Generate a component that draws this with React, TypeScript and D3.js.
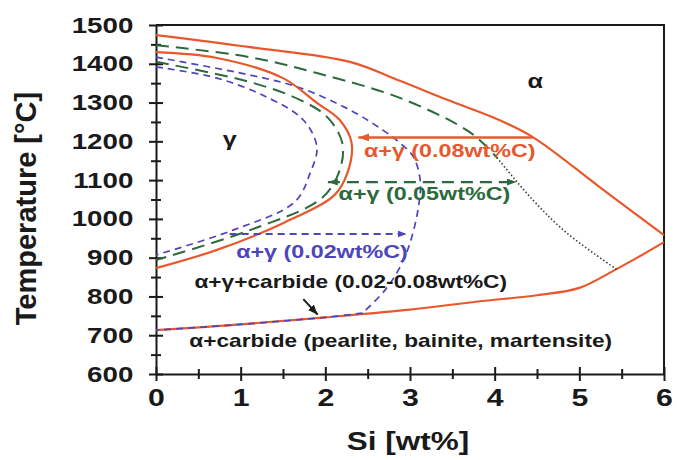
import { useEffect, useRef } from 'react';
import * as d3 from 'd3';

type Pt = [number, number];

const xTicks = [0, 1, 2, 3, 4, 5, 6];
const xMinorTicks = [0.5, 1.5, 2.5, 3.5, 4.5, 5.5];
const yTicks = [600, 700, 800, 900, 1000, 1100, 1200, 1300, 1400, 1500];
const yMinorTicks = [650, 750, 850, 950, 1050, 1150, 1250, 1350, 1450];

// boundaries as [Si wt%, T °C]
const orangeUpper: Pt[] = [[0, 1474], [1.11, 1443], [2.29, 1405], [2.88, 1356], [3.44, 1307], [4.0, 1260], [4.45, 1211], [5.24, 1082], [6, 958]];
const orangeLower: Pt[] = [[0, 713], [1.0, 728], [2.0, 746], [3.0, 766], [3.8, 787], [4.5, 803], [5.0, 822], [5.4, 866], [5.7, 902], [6, 940]];
const orangeLoop: Pt[] = [[0, 1430], [0.72, 1415], [1.5, 1363], [1.9, 1299], [2.17, 1255], [2.31, 1196], [2.26, 1118], [2.11, 1062], [1.5, 989], [0.72, 920], [0, 873]];
const greenUpper: Pt[] = [[0, 1448], [1.11, 1417], [1.9, 1376], [2.88, 1312], [3.67, 1229], [3.91, 1185], [4.03, 1157]];
const greenLoop: Pt[] = [[0, 1405], [1.11, 1353], [1.7, 1307], [2.02, 1263], [2.2, 1196], [2.17, 1126], [1.96, 1054], [1.11, 971], [0, 894]];
const dottedLine: Pt[] = [[4.0, 1165], [4.45, 1049], [4.85, 964], [5.44, 870]];
const blueUpper: Pt[] = [[0, 1417], [1.11, 1371], [1.7, 1338], [2.29, 1281], [2.68, 1229], [2.88, 1196], [3.04, 1160], [3.12, 1100], [3.1, 1031], [3.0, 938], [2.88, 875], [2.7, 815], [2.44, 757]];
const blueLower: Pt[] = [[2.44, 757], [2.0, 746], [1.0, 728], [0, 713]];
const blueLoop: Pt[] = [[0, 1392], [0.72, 1363], [1.31, 1314], [1.74, 1255], [1.9, 1185], [1.82, 1118], [1.64, 1044], [0.91, 971], [0, 907]];

// arrows [from, to]
const orangeArrow: Pt[] = [[4.45, 1210], [2.39, 1210]];
const greenArrow: Pt[] = [[2.03, 1095], [4.26, 1095]];
const blueArrow: Pt[] = [[0.87, 961], [2.96, 961]];
const blackArrow: Pt[] = [[1.74, 793], [1.91, 753]];

const labelTexts = [
  'α',
  'γ',
  'α+γ (0.08wt%C)',
  'α+γ (0.05wt%C)',
  'α+γ (0.02wt%C)',
  'α+γ+carbide (0.02-0.08wt%C)',
  'α+carbide (pearlite, bainite, martensite)',
];
const labelAnchors: Pt[] = [[4.48, 1337], [0.87, 1188], [3.47, 1160], [3.17, 1049], [1.96, 899], [2.3, 822], [2.89, 670]];

const ORANGE = '#e8582c';
const GREEN = '#2c6a3b';
const BLUE = '#4c45bb';
const BLACK = '#1a1a1a';
const FONT = '"Liberation Sans", Arial, Helvetica, sans-serif';
const SX = 1.26;

export default function App() {
  const svgRef = useRef<SVGSVGElement>(null);

  useEffect(() => {
    if (!svgRef.current) return;
    const svg = d3.select(svgRef.current);
    svg.selectAll('*').remove();

    const x = d3.scaleLinear().domain([0, 6]).range([156, 664]);
    const y = d3.scaleLinear().domain([600, 1500]).range([374, 25]);

    const line = d3
      .line<Pt>()
      .x((d) => x(d[0]))
      .y((d) => y(d[1]))
      .curve(d3.curveCatmullRom.alpha(0.5));

    // arrow markers
    const defs = svg.append('defs');
    const addMarker = (id: string, color: string, len: number, wid: number) => {
      defs
        .append('marker')
        .attr('id', id)
        .attr('viewBox', `0 0 ${len} ${wid}`)
        .attr('refX', len)
        .attr('refY', wid / 2)
        .attr('markerWidth', len)
        .attr('markerHeight', wid)
        .attr('markerUnits', 'userSpaceOnUse')
        .attr('orient', 'auto-start-reverse')
        .append('path')
        .attr('d', `M0,0L${len},${wid / 2}L0,${wid}Z`)
        .attr('fill', color);
    };
    addMarker('arr-orange', ORANGE, 11, 8);
    addMarker('arr-green', GREEN, 10, 7);
    addMarker('arr-blue', BLUE, 9, 7);
    addMarker('arr-black', BLACK, 10, 8);

    const g = svg.append('g');

    // axes
    const styleAxis = (sel: d3.Selection<SVGGElement, unknown, null, undefined>) => {
      sel.select('.domain').attr('stroke', BLACK).attr('stroke-width', 2);
      sel.selectAll('.tick line').attr('stroke', BLACK).attr('stroke-width', 2);
    };

    const xAxis = g
      .append('g')
      .attr('transform', `translate(0,${y(600)})`)
      .call(d3.axisBottom(x).tickValues(xTicks).tickSize(7).tickSizeOuter(0).tickPadding(8).tickFormat(d3.format('d')));
    styleAxis(xAxis);
    xAxis
      .selectAll('text')
      .attr('font-size', 24)
      .attr('font-weight', 'bold')
      .attr('font-family', FONT)
      .attr('fill', BLACK)
      .attr('transform', `scale(${SX},1)`);

    const addTicks = (axis: d3.Axis<d3.NumberValue>, transform: string) => {
      const a = g.append('g').attr('transform', transform).call(axis.tickFormat(() => ''));
      a.select('.domain').remove();
      a.selectAll('.tick line').attr('stroke', BLACK).attr('stroke-width', 2);
    };
    addTicks(d3.axisBottom(x).tickValues(xTicks).tickSize(-7), `translate(0,${y(600)})`);
    addTicks(d3.axisBottom(x).tickValues(xMinorTicks).tickSize(5), `translate(0,${y(600)})`);
    addTicks(d3.axisBottom(x).tickValues(xMinorTicks).tickSize(-5), `translate(0,${y(600)})`);

    const yAxis = g
      .append('g')
      .attr('transform', `translate(${x(0)},0)`)
      .call(d3.axisLeft(y).tickValues(yTicks).tickSize(7).tickSizeOuter(0).tickPadding(11).tickFormat(d3.format('d')));
    styleAxis(yAxis);
    yAxis
      .selectAll('text')
      .attr('font-size', 22)
      .attr('font-weight', 'bold')
      .attr('font-family', FONT)
      .attr('fill', BLACK)
      .attr('transform', `scale(${SX},1)`);
    addTicks(d3.axisLeft(y).tickValues(yTicks).tickSize(-7), `translate(${x(0)},0)`);
    addTicks(d3.axisLeft(y).tickValues(yMinorTicks).tickSize(5), `translate(${x(0)},0)`);
    addTicks(d3.axisLeft(y).tickValues(yMinorTicks).tickSize(-5), `translate(${x(0)},0)`);

    // frame top and right
    g.append('path')
      .attr('d', `M${x(0)},${y(1500)}H${x(6)}V${y(600)}`)
      .attr('fill', 'none')
      .attr('stroke', BLACK)
      .attr('stroke-width', 2);

    // axis titles
    g.append('text')
      .attr('transform', `translate(${(x(0) + x(6)) / 2 - 2},450) scale(${SX},1)`)
      .attr('text-anchor', 'middle')
      .attr('font-size', 25)
      .attr('font-weight', 'bold')
      .attr('font-family', FONT)
      .attr('fill', BLACK)
      .text('Si [wt%]');

    g.append('text')
      .attr('transform', `translate(36,${(y(600) + y(1500)) / 2 + 9}) rotate(-90)`)
      .attr('text-anchor', 'middle')
      .attr('font-size', 29)
      .attr('font-weight', 'bold')
      .attr('font-family', FONT)
      .attr('fill', BLACK)
      .text('Temperature [°C]');

    // boundaries
    const curve = (pts: Pt[], color: string, width: number, dash: string | null) => {
      g.append('path')
        .attr('d', line(pts) ?? '')
        .attr('fill', 'none')
        .attr('stroke', color)
        .attr('stroke-width', width)
        .attr('stroke-dasharray', dash ?? null);
    };

    curve(orangeLower, ORANGE, 2.2, null);
    curve(blueLower, BLUE, 1.7, '7,5');
    curve(dottedLine, '#334433', 1.6, '1.5,2.2');
    curve(greenUpper, GREEN, 2, '13,7');
    curve(greenLoop, GREEN, 2, '13,7');
    curve(blueUpper, BLUE, 1.7, '7,5');
    curve(blueLoop, BLUE, 1.7, '7,5');
    curve(orangeUpper, ORANGE, 2.2, null);
    curve(orangeLoop, ORANGE, 2.2, null);

    // arrows
    const arrow = (pts: Pt[], color: string, width: number, dash: string | null, marker: string, both: boolean) => {
      g.append('line')
        .attr('x1', x(pts[0][0]))
        .attr('y1', y(pts[0][1]))
        .attr('x2', x(pts[1][0]))
        .attr('y2', y(pts[1][1]))
        .attr('stroke', color)
        .attr('stroke-width', width)
        .attr('stroke-dasharray', dash ?? null)
        .attr('marker-end', `url(#${marker})`)
        .attr('marker-start', both ? `url(#${marker})` : null);
    };
    arrow(orangeArrow, ORANGE, 2.4, null, 'arr-orange', false);
    arrow(greenArrow, GREEN, 2.2, '12,7', 'arr-green', true);
    arrow(blueArrow, BLUE, 2, '7,5', 'arr-blue', false);
    arrow(blackArrow, BLACK, 2, null, 'arr-black', false);

    // labels
    const labelColors = [BLACK, BLACK, ORANGE, GREEN, BLUE, BLACK, BLACK];
    const labelSizes = [20, 20, 18.5, 18.5, 18.5, 18, 18];
    labelTexts.forEach((t, i) => {
      g.append('text')
        .attr('transform', `translate(${x(labelAnchors[i][0])},${y(labelAnchors[i][1])}) scale(${SX},1)`)
        .attr('text-anchor', 'middle')
        .attr('font-size', labelSizes[i])
        .attr('font-weight', 'bold')
        .attr('font-family', FONT)
        .attr('fill', labelColors[i])
        .text(t);
    });
  }, []);

  return (
    <svg
      ref={svgRef}
      width={677}
      height={460}
      style={{ position: 'absolute', left: 0, top: 0, background: '#fff' }}
    />
  );
}
